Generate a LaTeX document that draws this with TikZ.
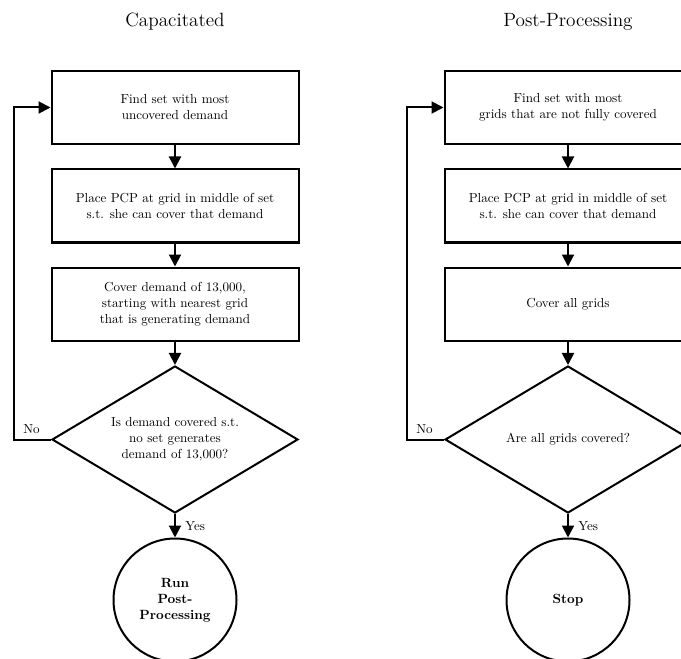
\documentclass[tikz,border=0pt]{standalone}
\usetikzlibrary{shapes.geometric,arrows.meta,positioning}
\begin{document}
\begin{tikzpicture}[x=0.75pt,y=-0.75pt,
  every node/.style={font=\fontsize{9.8}{12}\selectfont},
  procbox/.style={draw,line width=1.5pt,rectangle,minimum width=185.25pt,minimum height=54.75pt,align=center,inner sep=2pt},
  decbox/.style={draw,line width=1.5pt,diamond,aspect=1.67,minimum width=184.5pt,minimum height=110.25pt,align=center,inner sep=0pt},
  termbox/.style={draw,line width=1.5pt,circle,minimum size=92.25pt,align=center,font=\fontsize{10}{12}\selectfont\bfseries,inner sep=0pt},
  titlelbl/.style={font=\fontsize{14.4}{17}\selectfont},
  flow/.style={line width=1.5pt,-{Triangle[length=9pt,width=9pt]}},
  edgelbl/.style={inner sep=1pt}]
\useasboundingbox (0,0) rectangle (681,659);
\clip (0,0) rectangle (681,659);

% Left: Capacitated
\node[titlelbl] (t1) at (175,22) {Capacitated};
\node[procbox] (a1) at (175,107.5) {Find set with most\\uncovered demand};
\node[procbox] (a2) at (175,206) {Place PCP at grid in middle of set\\s.t. she can cover that demand};
\node[procbox] (a3) at (175,304) {Cover demand of 13,000,\\starting with nearest grid\\that is generating demand};
\node[decbox] (ad) at (175,439.5) {Is demand covered s.t.\\no set generates\\demand of 13,000?};
\node[termbox] (ac) at (175,600) {Run\\Post-\\Processing};
\coordinate (af) at (14,439.5);
\draw[flow] (a1) -- (a2);
\draw[flow] (a2) -- (a3);
\draw[flow] (a3) -- (ad);
\draw[flow] (ad) -- node[edgelbl,anchor=west,xshift=6pt] (ay) {Yes} (ac);
\draw[flow] (ad.west) -- (af) |- (a1.west);
\node[edgelbl,anchor=south] (an) at (31.5,435) {No};

% Right: Post-Processing
\node[titlelbl] (t2) at (568,22) {Post-Processing};
\node[procbox] (b1) at (568,107.5) {Find set with most\\grids that are not fully covered};
\node[procbox] (b2) at (568,206) {Place PCP at grid in middle of set\\s.t. she can cover that demand};
\node[procbox] (b3) at (568,304) {Cover all grids};
\node[decbox] (bd) at (568,439.5) {Are all grids covered?};
\node[termbox] (bc) at (568,600) {Stop};
\coordinate (bf) at (407,439.5);
\draw[flow] (b1) -- (b2);
\draw[flow] (b2) -- (b3);
\draw[flow] (b3) -- (bd);
\draw[flow] (bd) -- node[edgelbl,anchor=west,xshift=6pt] (by) {Yes} (bc);
\draw[flow] (bd.west) -- (bf) |- (b1.west);
\node[edgelbl,anchor=south] (bn) at (424.5,435) {No};
\end{tikzpicture}
\end{document}
